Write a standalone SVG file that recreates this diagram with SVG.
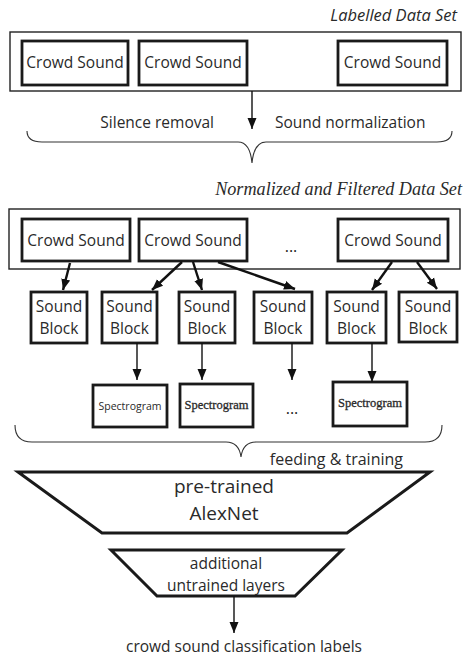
<svg xmlns="http://www.w3.org/2000/svg" width="469" height="658" viewBox="0 0 469 658">
  <style>
    .frame { fill: #fff; stroke: #222; stroke-width: 1.4; }
    .box { fill: #fff; stroke: #1a1a1a; stroke-width: 2.8; }
    .trap { fill: #fff; stroke: #1a1a1a; stroke-width: 3; }
    .brace { fill: none; stroke: #333; stroke-width: 1.1; }
    .sans { font-family: "Open Sans", "DejaVu Sans", sans-serif; fill: #2a2a2a; }
    .serif { font-family: "Liberation Serif", "DejaVu Serif", serif; fill: #2a2a2a; }
    .lbl { font-size: 15.5px; text-anchor: middle; }
    .blk { font-size: 15.5px; text-anchor: middle; }
    .spec { font-size: 12.5px; text-anchor: middle; stroke: #2a2a2a; stroke-width: 0.3; }
    .conn { stroke: #111; stroke-width: 2.4; fill: none; marker-end: url(#head); }
    .thin { stroke: #111; stroke-width: 1.4; fill: none; marker-end: url(#head); }
    .dots { font-family: "Open Sans", sans-serif; font-size: 16px; fill: #222; text-anchor: middle; }
  </style>
  <defs>
    <marker id="head" markerUnits="userSpaceOnUse" markerWidth="12" markerHeight="12" viewBox="0 0 12 12" refX="11" refY="6" orient="auto">
      <path d="M0,1.5 L11,6 L0,10.5 Z" fill="#111"/>
    </marker>
  </defs>

  <!-- Labelled data set -->
  <text class="sans" x="457" y="21" font-size="16.5" font-style="italic" text-anchor="end">Labelled Data Set</text>
  <g id="labelled-set">
    <rect class="frame" x="10" y="32" width="451" height="59"/>
  </g>
  <g id="cs1">
    <rect class="box" x="22" y="41" width="106" height="44"/>
    <text class="sans lbl" x="75" y="68">Crowd Sound</text>
  </g>
  <g id="cs2">
    <rect class="box" x="139" y="41" width="108" height="44"/>
    <text class="sans lbl" x="193" y="68">Crowd Sound</text>
  </g>
  <g id="cs3">
    <rect class="box" x="338" y="41" width="109" height="44"/>
    <text class="sans lbl" x="392.5" y="68">Crowd Sound</text>
  </g>

  <g id="preprocess">
    <text class="sans" x="214" y="128" font-size="15.5" text-anchor="end">Silence removal</text>
    <text class="sans" x="275" y="128" font-size="15.5">Sound normalization</text>
    <path class="brace" d="M27,131 Q27,142 42,142 L238,142 Q250,142 252,163 Q254,142 266,142 L437,142 Q452,142 452,131"/>
  </g>

  <!-- Normalized and filtered data set -->
  <text class="serif" x="462" y="195" font-size="18.2" font-style="italic" text-anchor="end">Normalized and Filtered Data Set</text>
  <g id="filtered-set">
    <rect class="frame" x="9" y="209" width="451" height="60"/>
    <text class="dots" x="291" y="252">...</text>
  </g>
  <g id="fcs1">
    <rect class="box" x="22" y="219" width="108" height="42"/>
    <text class="sans lbl" x="76" y="246">Crowd Sound</text>
  </g>
  <g id="fcs2">
    <rect class="box" x="139" y="219" width="108" height="42"/>
    <text class="sans lbl" x="193" y="246">Crowd Sound</text>
  </g>
  <g id="fcs3">
    <rect class="box" x="338" y="219" width="110" height="42"/>
    <text class="sans lbl" x="393" y="246">Crowd Sound</text>
  </g>

  <!-- Sound blocks -->
  <g id="sb1">
    <rect class="box" x="31" y="292" width="56" height="51"/>
    <text class="sans blk" x="59" y="312">Sound</text>
    <text class="sans blk" x="59" y="334">Block</text>
  </g>
  <g id="sb2">
    <rect class="box" x="102" y="292" width="55" height="51"/>
    <text class="sans blk" x="129.5" y="312">Sound</text>
    <text class="sans blk" x="129.5" y="334">Block</text>
  </g>
  <g id="sb3">
    <rect class="box" x="179" y="292" width="56" height="51"/>
    <text class="sans blk" x="207" y="312">Sound</text>
    <text class="sans blk" x="207" y="334">Block</text>
  </g>
  <g id="sb4">
    <rect class="box" x="254" y="292" width="58" height="51"/>
    <text class="sans blk" x="283" y="312">Sound</text>
    <text class="sans blk" x="283" y="334">Block</text>
  </g>
  <g id="sb5">
    <rect class="box" x="327" y="292" width="59" height="51"/>
    <text class="sans blk" x="356.5" y="312">Sound</text>
    <text class="sans blk" x="356.5" y="334">Block</text>
  </g>
  <g id="sb6">
    <rect class="box" x="399" y="292" width="58" height="50"/>
    <text class="sans blk" x="428" y="312">Sound</text>
    <text class="sans blk" x="428" y="334">Block</text>
  </g>

  <!-- Spectrograms -->
  <g id="sp1">
    <rect class="box" x="93" y="385" width="74" height="42"/>
    <text class="sans" x="130" y="410" font-size="10.5" text-anchor="middle">Spectrogram</text>
  </g>
  <g id="sp2">
    <rect class="box" x="180" y="384" width="73" height="43"/>
    <text class="serif spec" x="216.5" y="409">Spectrogram</text>
  </g>
  <text class="dots" x="292" y="414">...</text>
  <g id="sp3">
    <rect class="box" x="333" y="382" width="74" height="44"/>
    <text class="serif spec" x="370" y="407">Spectrogram</text>
  </g>

  <g id="feeding">
    <path class="brace" d="M15,425 Q15,442 32,442 L226,442 Q239,442 241,457 Q243,442 256,442 L425,442 Q442,442 442,425"/>
    <text class="sans" x="403" y="465" font-size="16" text-anchor="end">feeding &amp; training</text>
  </g>

  <!-- Networks -->
  <g id="alexnet">
    <polygon class="trap" points="18,472 430,472 347,533 102,533"/>
    <text class="sans" x="224" y="493" font-size="19" text-anchor="middle">pre-trained</text>
    <text class="sans" x="224" y="520" font-size="19" text-anchor="middle">AlexNet</text>
  </g>
  <g id="extra-layers">
    <polygon class="trap" points="111,550 342,550 295,596 157,596"/>
    <text class="sans" x="226" y="569" font-size="15.5" text-anchor="middle">additional</text>
    <text class="sans" x="226" y="591" font-size="15.5" text-anchor="middle">untrained layers</text>
  </g>
  <g id="output">
    <text class="sans" x="244" y="652" font-size="15.5" text-anchor="middle">crowd sound classification labels</text>
  </g>

  <!-- Connectors -->
  <g id="connectors">
    <line class="thin" x1="252" y1="91" x2="252" y2="129"/>
    <line class="conn" x1="70" y1="263" x2="63" y2="290"/>
    <line class="conn" x1="182" y1="262" x2="152" y2="290"/>
    <line class="conn" x1="193" y1="262" x2="202" y2="290"/>
    <line class="conn" x1="218" y1="262" x2="295" y2="289"/>
    <line class="conn" x1="392" y1="262" x2="372" y2="290"/>
    <line class="conn" x1="417" y1="262" x2="437" y2="289"/>
    <line class="thin" x1="137" y1="343" x2="137" y2="380"/>
    <line class="thin" x1="202" y1="343" x2="202" y2="380"/>
    <line class="thin" x1="292" y1="343" x2="292" y2="380"/>
    <line class="thin" x1="372" y1="343" x2="372" y2="382"/>
    <line class="thin" x1="234" y1="596" x2="234" y2="633"/>
  </g>
</svg>
